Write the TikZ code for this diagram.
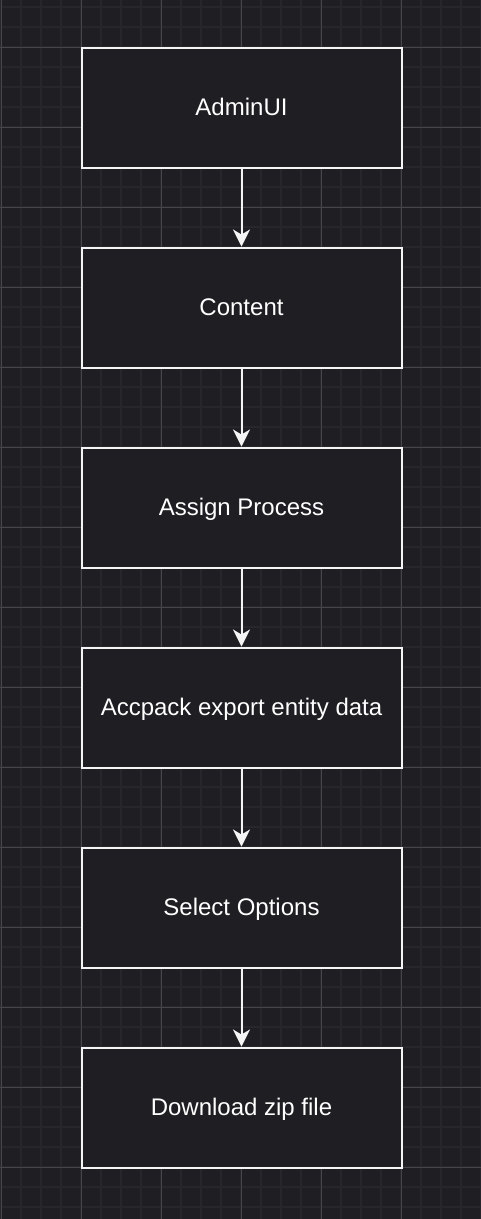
\documentclass[tikz,border=0pt]{standalone}
\usepackage{fontspec}
\setmainfont{Liberation Sans}
\usetikzlibrary{arrows.meta}
\definecolor{bgc}{HTML}{1F1E22}
\definecolor{minorc}{HTML}{27272B}
\definecolor{majorc}{HTML}{45454A}
\definecolor{fg}{HTML}{F4F4F4}
\begin{document}
\begin{tikzpicture}[x=1pt,y=-1pt,
  stepbox/.style={draw=fg, line width=2pt, fill=bgc, minimum width=320pt, minimum height=120pt,
    inner sep=0pt, text height=17pt, text depth=1pt, text=white, font=\fontsize{24}{28}\selectfont},
  flow/.style={draw=fg, line width=2pt, -{Stealth[length=17pt, width=17pt, inset=5pt]}}]
\useasboundingbox (0,0) rectangle (481,1219);
\fill[bgc] (0,0) rectangle (481,1219);
% minor grid
\foreach \x in {1,21,...,481} \draw[minorc, line width=2pt] (\x,0) -- (\x,1219);
\foreach \y in {7,27,...,1219} \draw[minorc, line width=2pt] (0,\y) -- (481,\y);
% major grid
\foreach \x in {1,81,...,481} \draw[majorc, line width=1pt] (\x,0) -- (\x,1219);
\foreach \y in {47,127,...,1219} \draw[majorc, line width=1pt] (0,\y) -- (481,\y);
\node[stepbox] (a) at (241.5,107.5) {AdminUI};
\node[stepbox] (b) at (241.5,307.5) {Content};
\node[stepbox] (c) at (241.5,507.5) {Assign Process};
\node[stepbox] (d) at (241.5,707.5) {Accpack export entity data};
\node[stepbox] (e) at (241.5,907.5) {Select Options};
\node[stepbox] (f) at (241.5,1107.5) {Download zip file};
\draw[flow] (a) -- (b);
\draw[flow] (b) -- (c);
\draw[flow] (c) -- (d);
\draw[flow] (d) -- (e);
\draw[flow] (e) -- (f);
\end{tikzpicture}
\end{document}
